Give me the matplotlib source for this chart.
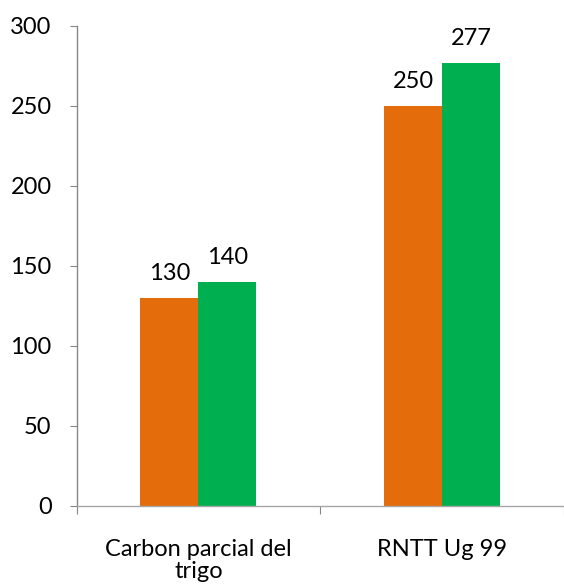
import matplotlib
matplotlib.use("Agg")
import matplotlib.pyplot as plt
import numpy as np

categories = ["Carbon parcial del\ntrigo", "RNTT Ug 99"]
series_a = [130, 250]
series_b = [140, 277]
y_ticks = [0, 50, 100, 150, 200, 250, 300]

orange = "#E46C0A"
green = "#00B050"

plt.rcParams['font.family'] = ['Lato', 'DejaVu Sans']
fs = 17

fig = plt.figure(figsize=(5.64, 5.84), dpi=100)
ax = fig.add_axes([76.6/564, 1-506/584, 1-76.6/564, (506-26)/584])

x = np.arange(len(categories))
w = 0.238
b1 = ax.bar(x - w/2, series_a, w, color=orange, edgecolor='none')
b2 = ax.bar(x + w/2, series_b, w, color=green, edgecolor='none')

for bars, vals in ((b1, series_a), (b2, series_b)):
    for r, v in zip(bars, vals):
        ax.annotate(str(v), (r.get_x() + r.get_width()/2, v),
                    xytext=(0, 14), textcoords='offset pixels',
                    ha='center', va='bottom', fontsize=fs, color='#000000')

ax.set_xlim(-0.5, 1.485)
ax.set_ylim(0, 300)
ax.set_yticks(y_ticks)
ax.set_yticklabels([str(t) for t in y_ticks], fontsize=fs)
ax.tick_params(axis='y', length=5, color='#868686', pad=13)

ax.set_xticks([-0.5, 0.5, 1.5])
ax.set_xticklabels([])
ax.set_xticks(x, minor=True)
ax.set_xticklabels(categories, minor=True, fontsize=fs, linespacing=1.05)
ax.tick_params(axis='x', which='major', length=6, color='#868686', direction='out')
ax.tick_params(axis='x', which='minor', length=0, pad=24)

for s in ('top', 'right'):
    ax.spines[s].set_visible(False)
ax.spines['left'].set_color('#868686')
ax.spines['bottom'].set_color('#A6A6A6')
ax.spines['left'].set_linewidth(1.0)
ax.spines['bottom'].set_linewidth(1.0)

fig.savefig("out.png", dpi=100)
